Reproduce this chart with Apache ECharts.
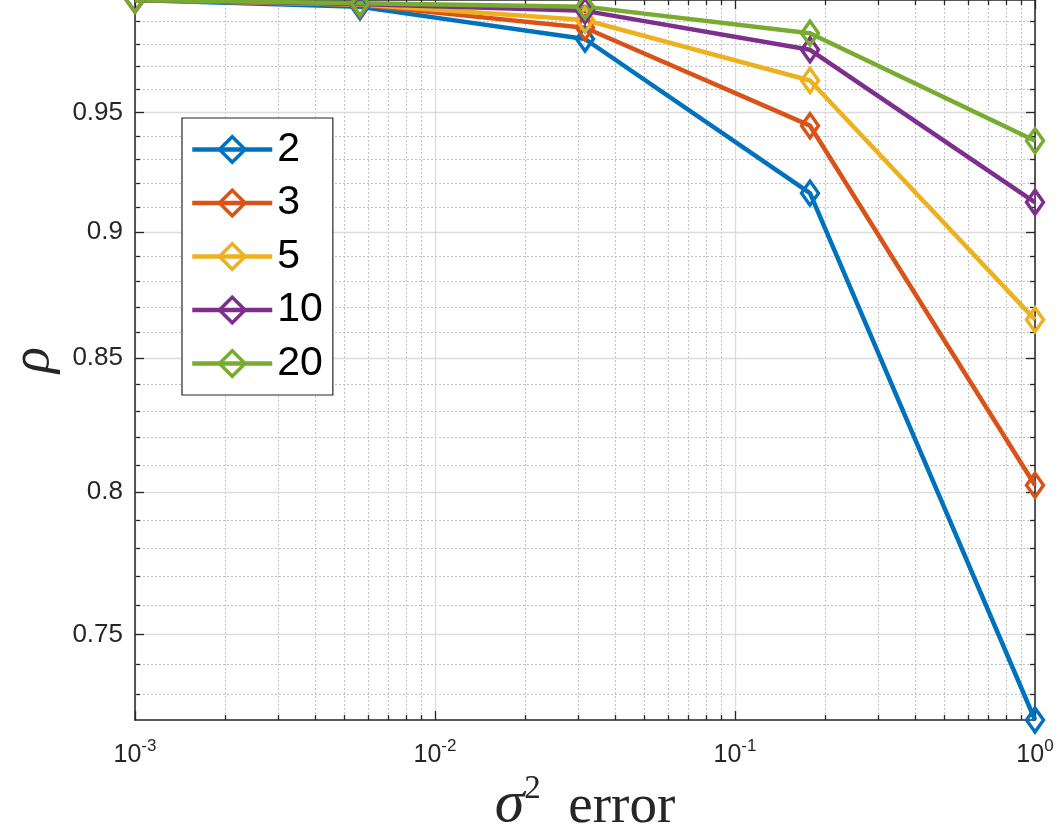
<!DOCTYPE html>
<html>
<head>
<meta charset="utf-8">
<script src="https://cdn.jsdelivr.net/npm/echarts@6/dist/echarts.min.js"></script>
<style>
  html, body { margin: 0; padding: 0; background: #fff; }
  #chart { width: 1059px; height: 833px; }
</style>
</head>
<body>
<div id="chart"></div>
<script>
// x: sigma^2 error (log), y: rho (log)
const xValues = [0.001, 0.005623, 0.031623, 0.177828, 1];
const seriesNames = ['2', '3', '5', '10', '20'];
const rho2 = [0.9997, 0.9966, 0.9822, 0.9160, 0.7216];
const rho3 = [0.9997, 0.9975, 0.9872, 0.9444, 0.8025];
const rho5 = [0.9997, 0.9977, 0.9907, 0.9639, 0.8650];
const rho10 = [0.9997, 0.9979, 0.9948, 0.9774, 0.9122];
const rho20 = [0.9997, 0.9982, 0.9967, 0.9848, 0.9380];
const colors = ['#0072BD', '#D95319', '#EDB120', '#7E2F8E', '#77AC30'];

const xMin = 0.001, xMax = 1;
const yMin = 0.7216, yMax = 0.9997;
const xMajorTicks = [0.001, 0.01, 0.1, 1];
const xMinorTicks = [0.002, 0.003, 0.004, 0.005, 0.006, 0.007, 0.008, 0.009,
                     0.02, 0.03, 0.04, 0.05, 0.06, 0.07, 0.08, 0.09,
                     0.2, 0.3, 0.4, 0.5, 0.6, 0.7, 0.8, 0.9];
const yMajorTicks = [0.75, 0.8, 0.85, 0.9, 0.95];
const yTickLabels = ['0.75', '0.8', '0.85', '0.9', '0.95'];
const yMinorTicks = [0.73, 0.74, 0.76, 0.77, 0.78, 0.79, 0.81, 0.82, 0.83, 0.84,
                     0.86, 0.87, 0.88, 0.89, 0.91, 0.92, 0.93, 0.94,
                     0.96, 0.97, 0.98, 0.99];

const allRho = [rho2, rho3, rho5, rho10, rho20];
const axisColor = '#262626';

const chart = echarts.init(document.getElementById('chart'), null, { renderer: 'canvas' });

// one axis per tick set, so major/minor grids can be styled apart
function axis(kind, position, ticks, tickLen, grid, lineOn, z) {
  const a = {
    type: 'log',
    logBase: 10,
    min: kind === 'x' ? xMin : yMin,
    max: kind === 'x' ? xMax : yMax,
    position: position,
    gridIndex: 0,
    z: z,
    axisLine: { show: lineOn, onZero: false, lineStyle: { color: axisColor, width: 1.5 } },
    axisTick: { show: true, inside: true, length: tickLen, customValues: ticks,
                lineStyle: { color: axisColor, width: 1.3 } },
    axisLabel: { show: false },
    minorTick: { show: false },
    minorSplitLine: { show: false },
    splitLine: { show: false }
  };
  if (grid === 'major') {
    a.splitLine = { show: true, lineStyle: { color: '#dcdcdc', width: 1.3, type: 'solid' } };
  } else if (grid === 'minor') {
    a.splitLine = { show: true, lineStyle: { color: '#c2c2c2', width: 1, type: [2, 2] } };
  }
  return a;
}

const xBottom = axis('x', 'bottom', xMajorTicks, 9, 'major', true, 1);
xBottom.axisLabel = {
  show: true,
  customValues: xMajorTicks,
  margin: 18,
  fontSize: 25,
  fontFamily: 'Liberation Sans',
  color: axisColor,
  formatter: function (v) {
    const e = Math.round(Math.log10(v));
    return '{b|10}{s|' + e + '}';
  },
  rich: {
    b: { fontSize: 25, fontFamily: 'Liberation Sans', color: axisColor, verticalAlign: 'bottom', lineHeight: 30 },
    s: { fontSize: 17, fontFamily: 'Liberation Sans', color: axisColor, verticalAlign: 'top', lineHeight: 17 }
  }
};
xBottom.name = '{s|σ}{p|2}{e|  error}';
xBottom.nameLocation = 'middle';
xBottom.nameGap = 42;
xBottom.nameTextStyle = {
  rich: {
    s: { fontSize: 60, fontFamily: 'Liberation Serif', fontStyle: 'italic', color: axisColor, verticalAlign: 'bottom', lineHeight: 62 },
    p: { fontSize: 33, fontFamily: 'Liberation Serif', color: axisColor, verticalAlign: 'top', lineHeight: 33 },
    e: { fontSize: 55, fontFamily: 'Liberation Serif', color: axisColor, verticalAlign: 'bottom', lineHeight: 60 }
  }
};

const yLeft = axis('y', 'left', yMajorTicks, 9, 'major', true, 1);
yLeft.axisLabel = {
  show: true,
  customValues: yMajorTicks,
  margin: 12,
  fontSize: 26,
  fontFamily: 'Liberation Sans',
  color: axisColor,
  formatter: function (v) {
    const i = yMajorTicks.findIndex(t => Math.abs(t - v) < 1e-6);
    return i >= 0 ? yTickLabels[i] : '';
  }
};
yLeft.name = 'ρ';
yLeft.nameLocation = 'middle';
yLeft.nameRotate = 90;
yLeft.nameGap = 74;
yLeft.nameTextStyle = { fontSize: 54, fontFamily: 'Liberation Serif', fontStyle: 'italic', color: axisColor };

const option = {
  animation: false,
  backgroundColor: '#fff',
  grid: { left: 135, top: 0, width: 900, height: 720, containLabel: false, outerBoundsMode: 'none' },
  legend: {
    orient: 'vertical',
    left: 182,
    top: 118,
    itemWidth: 80,
    itemHeight: 32,
    itemGap: 12.5,
    padding: [11, 10, 11, 8],
    borderColor: axisColor,
    borderWidth: 1.2,
    backgroundColor: '#fff',
    selectedMode: false,
    lineStyle: { width: 4.5 },
    itemStyle: { borderWidth: 3.5 },
    textStyle: { fontSize: 41, lineHeight: 38, fontFamily: 'Liberation Sans', color: '#000' },
    data: seriesNames,
    z: 10
  },
  xAxis: [
    xBottom,
    axis('x', 'bottom', xMinorTicks, 5, 'minor', false, 0),
    axis('x', 'top', xMajorTicks, 9, 'none', true, 2),
    axis('x', 'top', xMinorTicks, 5, 'none', false, 2)
  ],
  yAxis: [
    yLeft,
    axis('y', 'left', yMinorTicks, 5, 'minor', false, 0),
    axis('y', 'right', yMajorTicks, 9, 'none', true, 2),
    axis('y', 'right', yMinorTicks, 5, 'none', false, 2)
  ],
  series: seriesNames.map((name, k) => ({
    name: name,
    type: 'line',
    xAxisIndex: 0,
    yAxisIndex: 0,
    data: xValues.map((x, i) => [x, allRho[k][i]]),
    symbol: 'diamond',
    symbolSize: [17, 24],
    showAllSymbol: true,
    clip: false,
    z: 5,
    lineStyle: { color: colors[k], width: 4.5 },
    itemStyle: { color: 'rgba(255,255,255,0)', borderColor: colors[k], borderWidth: 3.5 },
    emphasis: { disabled: true }
  }))
};

option && chart.setOption(option);
</script>
</body>
</html>
